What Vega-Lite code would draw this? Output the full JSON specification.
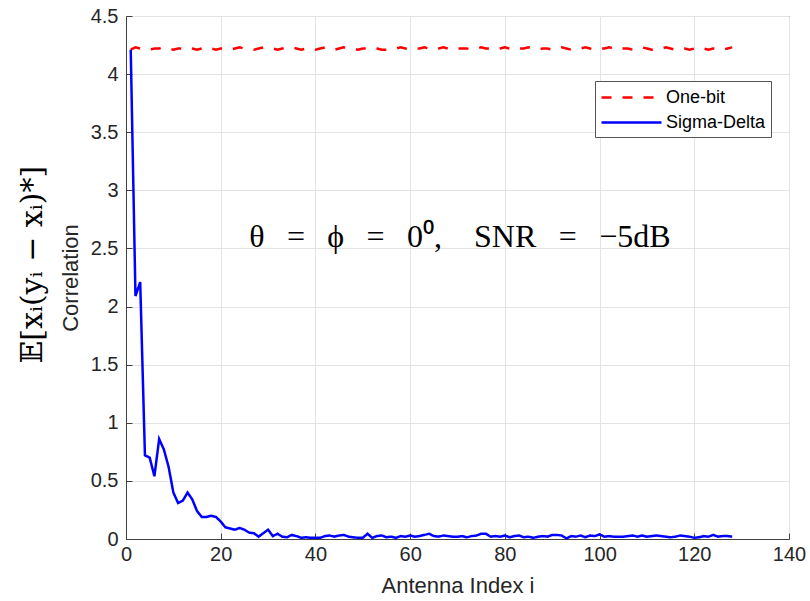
{
  "$schema": "https://vega.github.io/schema/vega-lite/v6.json",
  "width": 663,
  "height": 523,
  "autosize": {"type": "none"},
  "padding": {"left": 126, "top": 16, "right": 21, "bottom": 62},
  "background": "white",
  "config": {
    "view": {"stroke": "#404040", "strokeWidth": 1},
    "font": "Liberation Sans",
    "axis": {
      "labelFont": "Liberation Sans",
      "labelFontSize": 20,
      "labelColor": "#262626",
      "titleFont": "Liberation Sans",
      "titleFontSize": 22,
      "titleFontWeight": "normal",
      "titleColor": "#262626",
      "domainColor": "#404040",
      "ticks": true,
      "tickSize": -6,
      "tickColor": "#404040",
      "gridColor": "#e3e3e3",
      "gridWidth": 1
    },
    "axisX": {"labelPadding": 11, "titlePadding": 11, "labelFlush": false},
    "axisY": {"labelPadding": 14, "titlePadding": 8, "labelFlush": false}
  },
  "datasets": {
    "main": [
      {"i":1,"One-bit":4.21,"Sigma-Delta":4.21},
      {"i":2,"One-bit":4.23,"Sigma-Delta":2.09},
      {"i":3,"One-bit":4.22,"Sigma-Delta":2.21},
      {"i":4,"One-bit":4.22,"Sigma-Delta":0.72},
      {"i":5,"One-bit":4.21,"Sigma-Delta":0.70},
      {"i":6,"One-bit":4.22,"Sigma-Delta":0.54},
      {"i":7,"One-bit":4.22,"Sigma-Delta":0.86},
      {"i":8,"One-bit":4.23,"Sigma-Delta":0.77},
      {"i":9,"One-bit":4.22,"Sigma-Delta":0.62},
      {"i":10,"One-bit":4.21,"Sigma-Delta":0.40},
      {"i":11,"One-bit":4.22,"Sigma-Delta":0.31},
      {"i":12,"One-bit":4.22,"Sigma-Delta":0.33},
      {"i":13,"One-bit":4.23,"Sigma-Delta":0.40},
      {"i":14,"One-bit":4.22,"Sigma-Delta":0.34},
      {"i":15,"One-bit":4.21,"Sigma-Delta":0.24},
      {"i":16,"One-bit":4.22,"Sigma-Delta":0.19},
      {"i":17,"One-bit":4.23,"Sigma-Delta":0.19},
      {"i":18,"One-bit":4.22,"Sigma-Delta":0.20},
      {"i":19,"One-bit":4.21,"Sigma-Delta":0.19},
      {"i":20,"One-bit":4.22,"Sigma-Delta":0.15},
      {"i":21,"One-bit":4.22,"Sigma-Delta":0.10},
      {"i":22,"One-bit":4.21,"Sigma-Delta":0.09},
      {"i":23,"One-bit":4.22,"Sigma-Delta":0.08},
      {"i":24,"One-bit":4.23,"Sigma-Delta":0.095},
      {"i":25,"One-bit":4.22,"Sigma-Delta":0.08},
      {"i":26,"One-bit":4.22,"Sigma-Delta":0.055},
      {"i":27,"One-bit":4.21,"Sigma-Delta":0.05},
      {"i":28,"One-bit":4.22,"Sigma-Delta":0.02},
      {"i":29,"One-bit":4.23,"Sigma-Delta":0.05},
      {"i":30,"One-bit":4.22,"Sigma-Delta":0.08},
      {"i":31,"One-bit":4.22,"Sigma-Delta":0.025},
      {"i":32,"One-bit":4.21,"Sigma-Delta":0.045},
      {"i":33,"One-bit":4.22,"Sigma-Delta":0.02},
      {"i":34,"One-bit":4.22,"Sigma-Delta":0.015},
      {"i":35,"One-bit":4.23,"Sigma-Delta":0.035},
      {"i":36,"One-bit":4.22,"Sigma-Delta":0.025},
      {"i":37,"One-bit":4.21,"Sigma-Delta":0.01},
      {"i":38,"One-bit":4.22,"Sigma-Delta":0.015},
      {"i":39,"One-bit":4.22,"Sigma-Delta":0.01},
      {"i":40,"One-bit":4.21,"Sigma-Delta":0.01},
      {"i":41,"One-bit":4.22,"Sigma-Delta":0.01},
      {"i":42,"One-bit":4.23,"Sigma-Delta":0.025},
      {"i":43,"One-bit":4.22,"Sigma-Delta":0.03},
      {"i":44,"One-bit":4.21,"Sigma-Delta":0.02},
      {"i":45,"One-bit":4.22,"Sigma-Delta":0.03},
      {"i":46,"One-bit":4.23,"Sigma-Delta":0.035},
      {"i":47,"One-bit":4.22,"Sigma-Delta":0.02},
      {"i":48,"One-bit":4.22,"Sigma-Delta":0.015},
      {"i":49,"One-bit":4.21,"Sigma-Delta":0.01},
      {"i":50,"One-bit":4.22,"Sigma-Delta":0.01},
      {"i":51,"One-bit":4.22,"Sigma-Delta":0.045},
      {"i":52,"One-bit":4.23,"Sigma-Delta":0.01},
      {"i":53,"One-bit":4.22,"Sigma-Delta":0.025},
      {"i":54,"One-bit":4.21,"Sigma-Delta":0.03},
      {"i":55,"One-bit":4.21,"Sigma-Delta":0.015},
      {"i":56,"One-bit":4.22,"Sigma-Delta":0.02},
      {"i":57,"One-bit":4.22,"Sigma-Delta":0.01},
      {"i":58,"One-bit":4.23,"Sigma-Delta":0.025},
      {"i":59,"One-bit":4.22,"Sigma-Delta":0.02},
      {"i":60,"One-bit":4.21,"Sigma-Delta":0.03},
      {"i":61,"One-bit":4.22,"Sigma-Delta":0.02},
      {"i":62,"One-bit":4.22,"Sigma-Delta":0.025},
      {"i":63,"One-bit":4.23,"Sigma-Delta":0.035},
      {"i":64,"One-bit":4.22,"Sigma-Delta":0.045},
      {"i":65,"One-bit":4.21,"Sigma-Delta":0.025},
      {"i":66,"One-bit":4.22,"Sigma-Delta":0.02},
      {"i":67,"One-bit":4.23,"Sigma-Delta":0.03},
      {"i":68,"One-bit":4.22,"Sigma-Delta":0.025},
      {"i":69,"One-bit":4.21,"Sigma-Delta":0.02},
      {"i":70,"One-bit":4.22,"Sigma-Delta":0.02},
      {"i":71,"One-bit":4.22,"Sigma-Delta":0.025},
      {"i":72,"One-bit":4.22,"Sigma-Delta":0.015},
      {"i":73,"One-bit":4.21,"Sigma-Delta":0.025},
      {"i":74,"One-bit":4.22,"Sigma-Delta":0.03},
      {"i":75,"One-bit":4.23,"Sigma-Delta":0.045},
      {"i":76,"One-bit":4.22,"Sigma-Delta":0.045},
      {"i":77,"One-bit":4.22,"Sigma-Delta":0.02},
      {"i":78,"One-bit":4.21,"Sigma-Delta":0.025},
      {"i":79,"One-bit":4.22,"Sigma-Delta":0.02},
      {"i":80,"One-bit":4.23,"Sigma-Delta":0.03},
      {"i":81,"One-bit":4.22,"Sigma-Delta":0.015},
      {"i":82,"One-bit":4.21,"Sigma-Delta":0.025},
      {"i":83,"One-bit":4.22,"Sigma-Delta":0.03},
      {"i":84,"One-bit":4.22,"Sigma-Delta":0.015},
      {"i":85,"One-bit":4.23,"Sigma-Delta":0.02},
      {"i":86,"One-bit":4.22,"Sigma-Delta":0.01},
      {"i":87,"One-bit":4.21,"Sigma-Delta":0.02},
      {"i":88,"One-bit":4.22,"Sigma-Delta":0.025},
      {"i":89,"One-bit":4.22,"Sigma-Delta":0.02},
      {"i":90,"One-bit":4.21,"Sigma-Delta":0.035},
      {"i":91,"One-bit":4.22,"Sigma-Delta":0.035},
      {"i":92,"One-bit":4.23,"Sigma-Delta":0.03},
      {"i":93,"One-bit":4.22,"Sigma-Delta":0.005},
      {"i":94,"One-bit":4.21,"Sigma-Delta":0.025},
      {"i":95,"One-bit":4.22,"Sigma-Delta":0.02},
      {"i":96,"One-bit":4.22,"Sigma-Delta":0.03},
      {"i":97,"One-bit":4.23,"Sigma-Delta":0.015},
      {"i":98,"One-bit":4.22,"Sigma-Delta":0.03},
      {"i":99,"One-bit":4.21,"Sigma-Delta":0.025},
      {"i":100,"One-bit":4.22,"Sigma-Delta":0.04},
      {"i":101,"One-bit":4.22,"Sigma-Delta":0.02},
      {"i":102,"One-bit":4.23,"Sigma-Delta":0.025},
      {"i":103,"One-bit":4.22,"Sigma-Delta":0.02},
      {"i":104,"One-bit":4.21,"Sigma-Delta":0.02},
      {"i":105,"One-bit":4.22,"Sigma-Delta":0.02},
      {"i":106,"One-bit":4.22,"Sigma-Delta":0.025},
      {"i":107,"One-bit":4.21,"Sigma-Delta":0.03},
      {"i":108,"One-bit":4.22,"Sigma-Delta":0.02},
      {"i":109,"One-bit":4.23,"Sigma-Delta":0.03},
      {"i":110,"One-bit":4.22,"Sigma-Delta":0.02},
      {"i":111,"One-bit":4.21,"Sigma-Delta":0.025},
      {"i":112,"One-bit":4.22,"Sigma-Delta":0.03},
      {"i":113,"One-bit":4.22,"Sigma-Delta":0.025},
      {"i":114,"One-bit":4.23,"Sigma-Delta":0.02},
      {"i":115,"One-bit":4.22,"Sigma-Delta":0.015},
      {"i":116,"One-bit":4.21,"Sigma-Delta":0.02},
      {"i":117,"One-bit":4.22,"Sigma-Delta":0.03},
      {"i":118,"One-bit":4.22,"Sigma-Delta":0.025},
      {"i":119,"One-bit":4.21,"Sigma-Delta":0.02},
      {"i":120,"One-bit":4.22,"Sigma-Delta":0.01},
      {"i":121,"One-bit":4.23,"Sigma-Delta":0.015},
      {"i":122,"One-bit":4.22,"Sigma-Delta":0.025},
      {"i":123,"One-bit":4.21,"Sigma-Delta":0.02},
      {"i":124,"One-bit":4.22,"Sigma-Delta":0.035},
      {"i":125,"One-bit":4.22,"Sigma-Delta":0.02},
      {"i":126,"One-bit":4.21,"Sigma-Delta":0.025},
      {"i":127,"One-bit":4.22,"Sigma-Delta":0.025},
      {"i":128,"One-bit":4.23,"Sigma-Delta":0.02}
    ],
    "notes": [
      {"x": 70.5, "y": 2.6, "label": "θ\u2002\u2009=\u2002\u2009ϕ\u2002\u2009=\u2002\u20090⁰,\u2003SNR\u2002\u2009=\u2002\u2009−5dB", "kind": "anno"},
      {"x": -19.6, "y": 2.36, "label": "𝔼[xᵢ(yᵢ − xᵢ)*]", "kind": "ylab"}
    ]
  },
  "layer": [
    {
      "data": {"name": "main"},
      "transform": [{"fold": ["One-bit", "Sigma-Delta"], "as": ["series", "value"]}],
      "mark": {"type": "line", "strokeWidth": 2.5},
      "encoding": {
        "x": {
          "field": "i", "type": "quantitative",
          "scale": {"domain": [0, 140], "nice": false, "zero": false},
          "axis": {"values": [0,20,40,60,80,100,120,140], "title": "Antenna Index  i"}
        },
        "y": {
          "field": "value", "type": "quantitative",
          "scale": {"domain": [0, 4.5], "nice": false},
          "axis": {"values": [0,0.5,1,1.5,2,2.5,3,3.5,4,4.5], "format": "~g", "title": "Correlation"}
        },
        "color": {
          "field": "series", "type": "nominal",
          "scale": {"domain": ["One-bit", "Sigma-Delta"], "range": ["#ff0000", "#0000ff"]},
          "legend": {
            "title": null, "orient": "none", "legendX": 469, "legendY": 65,
            "fillColor": "white", "strokeColor": "#555555", "padding": 5,
            "labelFont": "Liberation Sans", "labelFontSize": 18, "labelColor": "#000000",
            "symbolType": "M-1,0H5", "symbolSize": 400, "symbolStrokeWidth": 2.5,
            "labelOffset": 43, "rowPadding": 4
          }
        },
        "strokeDash": {
          "field": "series", "type": "nominal",
          "scale": {"domain": ["One-bit", "Sigma-Delta"], "range": [[10, 11], [1, 0]]},
          "legend": {
            "title": null, "orient": "none", "legendX": 469, "legendY": 65,
            "fillColor": "white", "strokeColor": "#555555", "padding": 5,
            "labelFont": "Liberation Sans", "labelFontSize": 18, "labelColor": "#000000",
            "symbolType": "M-1,0H5", "symbolSize": 400, "symbolStrokeWidth": 2.5,
            "labelOffset": 43, "rowPadding": 4
          }
        }
      }
    },
    {
      "data": {"name": "notes"},
      "transform": [{"filter": "datum.kind == 'anno'"}],
      "mark": {"type": "text", "font": "Liberation Serif", "fontSize": 32, "baseline": "middle", "align": "center", "color": "#000000"},
      "encoding": {
        "x": {"field": "x", "type": "quantitative", "scale": {"domain": [0, 140]}, "axis": {"values": [0,20,40,60,80,100,120,140], "title": "Antenna Index  i"}},
        "y": {"field": "y", "type": "quantitative", "scale": {"domain": [0, 4.5]}, "axis": {"values": [0,0.5,1,1.5,2,2.5,3,3.5,4,4.5], "format": "~g", "title": "Correlation"}},
        "text": {"field": "label"}
      }
    },
    {
      "data": {"name": "notes"},
      "transform": [{"filter": "datum.kind == 'ylab'"}],
      "mark": {"type": "text", "font": "DejaVu Serif", "fontSize": 30, "baseline": "middle", "align": "center", "angle": 270, "color": "#000000"},
      "encoding": {
        "x": {"field": "x", "type": "quantitative", "scale": {"domain": [0, 140]}, "axis": {"values": [0,20,40,60,80,100,120,140], "title": "Antenna Index  i"}},
        "y": {"field": "y", "type": "quantitative", "scale": {"domain": [0, 4.5]}, "axis": {"values": [0,0.5,1,1.5,2,2.5,3,3.5,4,4.5], "format": "~g", "title": "Correlation"}},
        "text": {"field": "label"}
      }
    }
  ]
}
